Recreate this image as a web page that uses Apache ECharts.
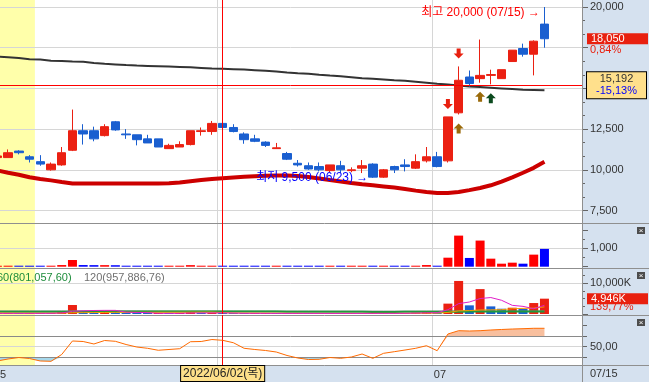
<!DOCTYPE html>
<html><head><meta charset="utf-8">
<script src="https://cdn.jsdelivr.net/npm/echarts@6/dist/echarts.min.js"></script>
<style>html,body{margin:0;padding:0;background:#fff}#c{width:649px;height:382px}</style>
</head><body><div id="c"></div>
<script>
// ---------------- data ----------------
const dates = [
 '2022/05/02','2022/05/03','2022/05/04','2022/05/06','2022/05/09','2022/05/10','2022/05/11','2022/05/12','2022/05/13','2022/05/16',
 '2022/05/17','2022/05/18','2022/05/19','2022/05/20','2022/05/23','2022/05/24','2022/05/25','2022/05/26','2022/05/27','2022/05/30',
 '2022/05/31','2022/06/02','2022/06/03','2022/06/07','2022/06/08','2022/06/09','2022/06/10','2022/06/13','2022/06/14','2022/06/15',
 '2022/06/16','2022/06/17','2022/06/20','2022/06/21','2022/06/22','2022/06/23','2022/06/24','2022/06/27','2022/06/28','2022/06/29',
 '2022/06/30','2022/07/01','2022/07/04','2022/07/05','2022/07/06','2022/07/07','2022/07/08','2022/07/11','2022/07/12','2022/07/13',
 '2022/07/14','2022/07/15'];
const opens = [10750,10750,11150,10800,10500,10000,10300,11200,12400,12400, 12100,12950,12200,12150,11900,11900,11300,11400,11550,12350,
 12350,12850,12600,12200,11900,11700,11300,11000,10400,10250, 10200,9950,10250,9950,10100,10350,9550,10200,10300,10100,
 10550,10800,10550,13500,15700,15600,15800,15600,16650,17450, 17100,18950];
const closes = [10850,11050,11050,10650,10350,10350,11050,12400,12200,11900, 12650,12450,12150,11850,11650,11400,11500,11550,12400,12400,
 12850,12600,12350,11850,11750,11500,11350,10650,10300,10050, 10000,10300,10000,10000,10250,9550,10000,10000,10200,10500,
 10800,10200,13250,15500,15300,15800,15850,16150,17350,17100, 17900,18050];
const lows = [10700,10750,10950,10450,10250,9950,10250,11150,11550,11750, 12050,12400,11900,11500,11650,11400,11300,11400,11500,12100,
 12150,12500,12300,11600,11700,11400,11300,10600,10200,10000, 9900,9850,9800,9850,9800,9500,9510,9800,9900,10050,
 10450,10150,10450,13400,15100,15350,15250,15600,16650,16950, 15800,17500];
const highs = [10900,11250,11200,10900,10900,10450,11400,13700,12800,12650, 12800,13000,12500,12150,12150,11900,11600,11750,12400,12600,
 13000,12900,12800,12300,12150,11750,11650,11100,10600,10450, 10450,10300,10550,10150,10600,10400,10050,10250,10650,10950,
 11400,11100,13250,16350,16100,18000,16150,16150,17350,17750, 17950,20000];
const maLong = [16950,16920,16860,16790,16770,16700,16680,16650,16630,16560, 16510,16470,16430,16400,16380,16360,16340,16320,16300,16260,
 16220,16200,16180,16160,16120,16080,16040,15980,15930,15900, 15840,15790,15750,15690,15630,15590,15550,15500,15470,15410,
 15350,15290,15240,15180,15120,15080,15040,15000,14960,14920, 14900,14880];
const maRed = [9960,9820,9700,9540,9430,9350,9250,9160,9160,9160, 9160,9160,9160,9160,9160,9160,9170,9220,9300,9370,
 9430,9480,9530,9570,9600,9630,9650,9650,9620,9560, 9470,9370,9280,9190,9110,9050,8980,8910,8820,8720,
 8630,8570,8570,8640,8750,8880,9050,9280,9540,9820, 10120,10490];
const tradeValue = [23,25,22,22,24,27,90,365,90,85, 85,80,26,25,23,25,22,25,85,30,
 30,28,27,24,23,23,20,22,22,19, 19,21,19,19,21,26,21,20,25,50,
 90,37,490,1690,475,1420,437,164,219,164, 656,967];
const volume = [210,230,200,200,230,260,800,2900,750,700, 700,650,230,220,200,220,200,220,700,240,
 250,230,220,200,200,200,180,200,210,190, 190,210,190,190,210,260,220,200,250,450,
 800,350,3345,10660,2790,8030,2460,1700,2030,1650, 3538.6,4946];
const vma5 = [220,220,215,215,215,225,330,870,1030,1130, 1170,1170,600,500,440,220,210,210,320,340,
 350,360,300,230,220,210,200,200,200,200, 200,195,195,195,200,210,210,210,225,280,
 370,410,1380,3350,3870,4990,5310,4430,2790,2460, 1710,2800];
const vma20 = [300,290,280,270,265,260,290,410,440,470, 500,520,530,540,545,550,555,560,590,600,
 600,470,330,300,290,280,270,230,220,210, 200,200,200,200,200,200,205,205,210,220,
 250,260,500,1000,1100,1300,1350,1400,1700,1800, 1900,2300];
const vma60 = [700,700,700,705,705,705,715,740,750,760, 765,770,770,770,770,770,770,770,775,775,
 775,775,775,775,770,770,770,760,750,740, 730,720,710,700,690,680,680,680,690,700,
 710,715,730,760,770,780,785,790,790,795, 800,801];
const vma120 = [1000,1000,995,995,990,990,990,990,990,985, 985,985,980,980,980,975,975,975,970,970,
 970,965,965,965,960,960,960,955,955,955, 950,950,950,945,945,945,940,940,940,940,
 940,940,945,950,950,952,953,954,955,956, 957,958];
const osc = [22.4,26.2,29.0,27.1,22.4,21.8,34.8,60.5,59.5,54.8, 61.4,59.9,53.8,49.0,46.6,42.8,44.3,45.8,59.1,59.5,
 63.3,61.8,57.2,46.6,44.3,42.4,39.5,32.9,28.1,25.2, 25.6,29.0,27.5,30.0,35.7,27.5,37.0,40.1,43.3,46.6,
 51.5,42.0,73.8,80.1,79.5,80.1,81.4,82.4,83.3,83.9, 84.7,84.7];
const priceLabels = [7500, 10000, 12500, 20000];
const oscLevels = [30, 50, 70];
const crossDate = '2022/06/02';
const crossPrice = 15192;
const highlight = ['2022/05/02', '2022/05/06'];
const signals = [
 {date:'2022/07/04', kind:'sell', color:'#e8200f'},
 {date:'2022/07/05', kind:'sell', color:'#e8200f'},
 {date:'2022/07/05', kind:'buy',  color:'#9a6a0a'},
 {date:'2022/07/07', kind:'buy',  color:'#9a6a0a'},
 {date:'2022/07/08', kind:'buy',  color:'#0b4a1e'}];
const maLabels = [{text:'60(801,057,60)', color:'#1e8c3c'}, {text:'120(957,886,76)', color:'#707070'}];

// ---------------- helpers ----------------
const N = dates.length;
const cats = dates.concat([' ', '  ', '   ']);
const bounds = cats.concat(['    ']);
const isMonthStart = j => j < N && (j === 0 || dates[j].slice(5,7) !== dates[j-1].slice(5,7));
const RED = '#eb2012', BLUE = '#1a5fd0', BG = '#d5e1ef', GRID = '#d6d6d6', SEP = '#8f8f8f';
const FONT = "'Liberation Sans','Noto Sans CJK KR',sans-serif";
const fmt = n => Math.round(n).toLocaleString('en-US');
const dec = x => x.toFixed(2).replace('.', ',');
const lastClose = closes[N-1];
const chgPct = dec((closes[N-1]/closes[N-2]-1)*100) + '%';
const crossPct = dec((crossPrice/closes[N-2]-1)*100) + '%';
const volPct = dec(volume[N-1]/volume[N-2]*100) + '%';
const hiVal = Math.max(...highs), hiIdx = highs.indexOf(hiVal);
const loVal = Math.min(...lows), loIdx = lows.indexOf(loVal);
const hiText = '최고 ' + fmt(hiVal) + ' (' + dates[hiIdx].slice(5) + ') →';
const loText = '최저 ' + fmt(loVal) + ' (' + dates[loIdx].slice(5) + ') →';
const wd = ['일','월','화','수','목','금','토'][new Date(crossDate.replace(/\//g,'-') + 'T00:00:00').getDay()];
const crossText = crossDate + '(' + wd + ')';
const DOWN = 'path://M3,0H7V5H10L5,10L0,5H3Z';
const UP = 'path://M5,0L10,5H7V10H3V5H0Z';
const NOLINE = {color:'rgba(0,0,0,0)', width:0, type:'solid'};

const L = -8, R = 67;
const grids = [
 {left:L, right:R, top:-33.7, height:284.9, outerBoundsMode:'none'},
 {left:L, right:R, top:229.9, height:36.8, outerBoundsMode:'none'},
 {left:L, right:R, top:268, height:46, outerBoundsMode:'none'},
 {left:L, right:R, top:315, height:50, outerBoundsMode:'none'}];

const xAxes = [];
for (let k = 0; k < 4; k++) xAxes.push({type:'category', gridIndex:k, position:'top', data:cats, boundaryGap:true,
  axisLine:{show:false}, axisTick:{show:false}, axisLabel:{show:false}, splitLine:{show:false}});
for (let k = 0; k < 4; k++) xAxes.push({type:'category', gridIndex:k, position:'bottom', data:bounds, boundaryGap:false,
  axisLine:{show:false}, axisTick:{show:false},
  axisLabel: k === 3 ? {show:true, interval:(j)=>isMonthStart(j), formatter:(v,j)=>isMonthStart(j)?dates[j].slice(5,7):'',
    align:'left', margin:4, padding:[0,0,0,2], color:'#333', fontSize:11, fontFamily:FONT} : {show:false},
  splitLine:{show:true, interval:(j)=>isMonthStart(j), lineStyle:{color:GRID, width:1}}});

const axLabel = {color:'#333', fontSize:11, fontFamily:FONT, margin:8};
const yAxes = [
 {type:'value', gridIndex:0, position:'right', min:5000, max:22500, interval:2500, z:0,
  axisLine:{show:true, lineStyle:{color:SEP}}, axisTick:{show:true, length:6, lineStyle:{color:'#666'}},
  minorTick:{show:true, splitNumber:3, length:3, lineStyle:{color:'#666'}},
  splitLine:{show:true, showMinLine:false, showMaxLine:false, lineStyle:{color:GRID}},
  axisLabel:Object.assign({formatter:v=>priceLabels.includes(v)?fmt(v):''}, axLabel)},
 {type:'value', gridIndex:1, position:'right', min:0, max:2000, interval:1000, z:2,
  axisLine:{show:true, lineStyle:{color:SEP}}, axisTick:{show:true, length:6, lineStyle:{color:'#666'}},
  minorTick:{show:true, splitNumber:2, length:3, lineStyle:{color:'#666'}},
  splitLine:{show:true, showMinLine:false, showMaxLine:false, lineStyle:{color:GRID}},
  axisLabel:Object.assign({formatter:v=>v===1000?fmt(v):''}, axLabel)},
 {type:'value', gridIndex:2, position:'right', min:0, max:14839, interval:10000, z:2,
  axisLine:{show:true, lineStyle:{color:SEP}}, axisTick:{show:true, length:6, lineStyle:{color:'#666'}},
  minorTick:{show:true, splitNumber:4, length:3, lineStyle:{color:'#666'}},
  splitLine:{show:true, showMinLine:false, showMaxLine:false, lineStyle:{color:GRID}},
  axisLabel:Object.assign({formatter:v=>v===10000?fmt(v)+'K':''}, axLabel)},
 {type:'value', gridIndex:3, position:'right', min:14.762, max:110, z:2,
  axisLine:{show:true, lineStyle:{color:SEP}}, axisTick:{show:true, length:5, customValues:[30,50,70,90], lineStyle:{color:'#666'}},
  splitLine:{show:false},
  axisLabel:Object.assign({customValues:[50], formatter:v=>v===50?dec(v):''}, axLabel)}];

const crossLine = {xAxis: crossDate, lineStyle:{color:'#ff0000', width:1, type:'solid'}, label:{show:false}};
const mlBase = {symbol:'none', silent:true, animation:false};
const boxRich = (bg) => ({e:{fontSize:11, lineHeight:11, height:11},
  a:{backgroundColor:bg, color:'#fff', width:57, padding:[0,0,0,4], height:11, lineHeight:11, fontSize:11, fontFamily:FONT},
  b:{color:bg, height:11, lineHeight:11, fontSize:11, padding:[0,0,0,3], fontFamily:FONT}});

const volRich = boxRich('#e8200f'); volRich.b = Object.assign({}, volRich.b, {padding:[0,0,5,3]});

const series = [
 {type:'line', xAxisIndex:0, yAxisIndex:0, data:maRed, symbol:'none', z:2, silent:true,
  lineStyle:{color:'#cc0000', width:4}},
 {type:'line', xAxisIndex:0, yAxisIndex:0, data:maLong, symbol:'none', z:2, silent:true,
  lineStyle:{color:'#333333', width:2}},
 {type:'candlestick', xAxisIndex:0, yAxisIndex:0, z:3, barWidth:9, silent:true,
  data: dates.map((d,i)=>[opens[i], closes[i], lows[i], highs[i]]),
  itemStyle:{color:RED, color0:BLUE, borderColor:RED, borderColor0:BLUE, borderWidth:1},
  markLine: Object.assign({}, mlBase, {data:[
   crossLine,
   {yAxis:crossPrice, lineStyle:{color:'#ff0000', width:1, type:'solid'},
    label:{show:true, position:'end', distance:5, formatter:'{a|'+fmt(crossPrice)+'}\n{b|'+crossPct+'}',
     backgroundColor:'#ffe08c', borderColor:'#000', borderWidth:1, padding:[1,0,1,0],
     rich:{a:{width:59, align:'center', color:'#333', fontSize:11, lineHeight:12, fontFamily:FONT},
           b:{width:59, align:'center', color:'#0000ff', fontSize:11, lineHeight:12, fontFamily:FONT}}}},
   {yAxis:lastClose, lineStyle:NOLINE,
    label:{show:true, position:'end', distance:5, opacity:1, formatter:'{e| }\n{a|'+fmt(lastClose)+'}\n{b|'+chgPct+'}',
     rich:boxRich('#e8200f')}}
  ]}),
  markPoint:{silent:true, animation:false, data:[
   {coord:[dates[hiIdx], hiVal], symbol:'circle', symbolSize:1, itemStyle:{color:'rgba(0,0,0,0)'},
    label:{show:true, position:'left', distance:4, offset:[0,6], formatter:hiText, color:'#ff0000', fontSize:12, fontFamily:FONT}},
   {coord:[dates[loIdx], loVal], symbol:'circle', symbolSize:1, itemStyle:{color:'rgba(0,0,0,0)'},
    label:{show:true, position:'left', distance:4, padding:[0,0,6,0], formatter:loText, color:'#0000ff', fontSize:12, fontFamily:FONT}}
  ].concat(signals.map(s=>{
    const i = dates.indexOf(s.date);
    return {coord:[s.date, s.kind==='buy'?lows[i]:highs[i]], symbol:s.kind==='buy'?UP:DOWN, symbolSize:[10,10],
      symbolOffset:[0, s.kind==='buy'?14:-13], itemStyle:{color:s.color}, label:{show:false}};
  }))}
 },
 {type:'bar', xAxisIndex:1, yAxisIndex:1, barWidth:9, barMinHeight:1, silent:true,
  data: tradeValue.map((v,i)=>({value:v, itemStyle:{color: closes[i]>=opens[i]?'#ff0000':'#0000ff'}})),
  markLine: Object.assign({}, mlBase, {data:[crossLine]})},
 {type:'bar', xAxisIndex:2, yAxisIndex:2, barWidth:9, barMinHeight:1, silent:true,
  data: volume.map((v,i)=>({value:v, itemStyle:{color: (i===0 || v>=volume[i-1])?RED:BLUE}})),
  markLine: Object.assign({}, mlBase, {data:[crossLine,
   {yAxis:volume[N-1], lineStyle:NOLINE,
    label:{show:true, position:'end', distance:5, opacity:1, formatter:'{e| }\n{a|'+fmt(volume[N-1])+'K}\n{b|'+volPct+'}',
     rich:volRich}}]})},
 {type:'line', xAxisIndex:2, yAxisIndex:2, data:vma120, symbol:'none', z:3, silent:true, lineStyle:{color:'#8a8a8a', width:1}},
 {type:'line', xAxisIndex:2, yAxisIndex:2, data:vma60, symbol:'none', z:3, silent:true, lineStyle:{color:'#1f9a3c', width:2}},
 {type:'line', xAxisIndex:2, yAxisIndex:2, data:vma20, symbol:'none', z:3, silent:true, lineStyle:{color:'#f5a000', width:1}},
 {type:'line', xAxisIndex:2, yAxisIndex:2, data:vma5, symbol:'none', z:3, silent:true, lineStyle:{color:'#e01ec8', width:1}},
 {type:'line', xAxisIndex:3, yAxisIndex:3, stack:'hi', data:osc.map(v=>Math.min(v, oscLevels[2])), symbol:'none', silent:true, z:2,
  lineStyle:{opacity:0}},
 {type:'line', xAxisIndex:3, yAxisIndex:3, stack:'hi', data:osc.map(v=>Math.max(v-oscLevels[2], 0)), symbol:'none', silent:true, z:2,
  lineStyle:{opacity:0}, areaStyle:{color:'#f8bf9e', opacity:1}},
 {type:'line', xAxisIndex:3, yAxisIndex:3, stack:'lo', data:osc.map(v=>Math.min(v, oscLevels[0])), symbol:'none', silent:true, z:2,
  lineStyle:{opacity:0},
  markLine: Object.assign({}, mlBase, {data:[
   {yAxis:oscLevels[2], lineStyle:{color:'#8a8a8a', width:1, type:'solid'}, label:{show:false}},
   {yAxis:oscLevels[1], lineStyle:{color:GRID, width:1, type:'solid'}, label:{show:false}},
   {yAxis:oscLevels[0], lineStyle:{color:'#8a8a8a', width:1, type:'solid'}, label:{show:false}}]})},
 {type:'line', xAxisIndex:3, yAxisIndex:3, stack:'lo', data:osc.map(v=>Math.max(oscLevels[0]-v, 0)), symbol:'none', silent:true, z:2,
  lineStyle:{opacity:0}, areaStyle:{color:'#a6d8ec', opacity:1}},
 {type:'line', xAxisIndex:3, yAxisIndex:3, data:osc, symbol:'none', silent:true, z:6,
  lineStyle:{color:'#ff6a00', width:1},
  markLine: Object.assign({}, mlBase, {data:[Object.assign({}, crossLine, {label:{show:true, position:'start', distance:1,
    formatter:crossText, backgroundColor:'#fde08a', borderColor:'#000', borderWidth:1, padding:[2,2,1,2],
    color:'#222', fontSize:12, fontFamily:FONT}})]})}
];

const chart = echarts.init(document.getElementById('c'), null, {renderer:'canvas'});
chart.setOption({animation:false, backgroundColor:'#ffffff', textStyle:{fontFamily:FONT},
  grid:grids, xAxis:xAxes, yAxis:yAxes, series:series});

const xa = chart.convertToPixel({xAxisIndex:4}, dates.indexOf(highlight[0]));
const xb = chart.convertToPixel({xAxisIndex:4}, dates.indexOf(highlight[1]) + 1);
const hline = y => ({type:'line', shape:{x1:0, y1:y, x2:649, y2:y}, style:{stroke:SEP, lineWidth:1}, z:4, silent:true});
const icon = y => [{type:'rect', shape:{x:637, y:y, width:8, height:7}, style:{fill:'#4d4d4d'}, z:4, silent:true},
  {type:'text', x:641, y:y+3.5, style:{text:'×', fill:'#fff', font:'8px '+FONT, align:'center', verticalAlign:'middle'}, z:5, silent:true}];
chart.setOption({graphic:[
  {type:'rect', shape:{x:xa, y:0, width:xb-xa, height:365}, style:{fill:'#ffffaa'}, z:-2, silent:true},
  {type:'rect', shape:{x:582, y:0, width:67, height:382}, style:{fill:BG}, z:-1, silent:true},
  {type:'rect', shape:{x:0, y:365, width:649, height:17}, style:{fill:BG}, z:-1, silent:true},
  {type:'rect', shape:{x:583, y:224, width:66, height:141}, style:{fill:BG}, z:1, silent:true},
  hline(223.5), hline(268.5), hline(315.5), hline(365.5),
  {type:'line', shape:{x1:582.5, y1:0, x2:582.5, y2:382}, style:{stroke:SEP, lineWidth:1}, z:4, silent:true},
  ...icon(227), ...icon(272), ...icon(319),
  {type:'text', x:-3, y:277.5, style:{text:maLabels[0].text, fill:maLabels[0].color, font:'11px '+FONT, verticalAlign:'middle'}, z:4, silent:true},
  {type:'text', x:84, y:277.5, style:{text:maLabels[1].text, fill:maLabels[1].color, font:'11px '+FONT, verticalAlign:'middle'}, z:4, silent:true},
  {type:'text', x:590, y:373.5, style:{text:dates[N-1].slice(5), fill:'#333', font:'11px '+FONT, verticalAlign:'middle'}, z:4, silent:true}
]});
</script></body></html>
